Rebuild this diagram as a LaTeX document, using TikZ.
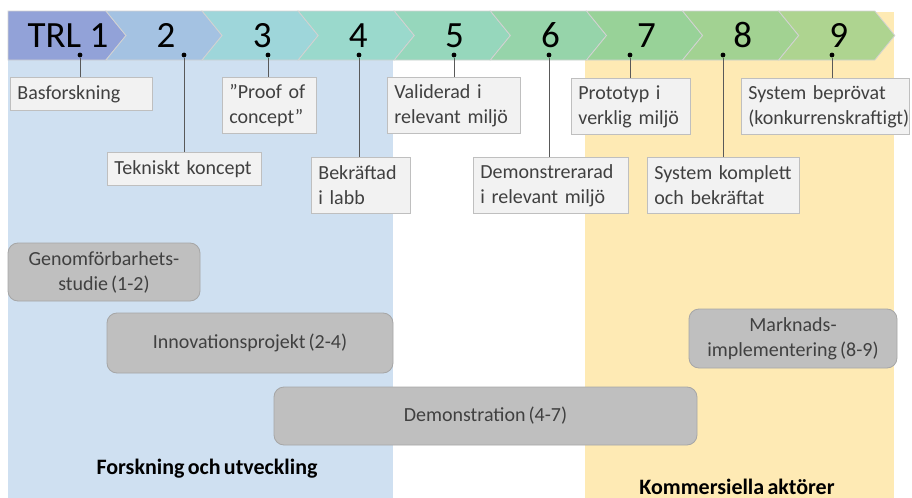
\documentclass[tikz,border=0pt]{standalone}
\usepackage{fontspec}
\setmainfont{Carlito}
\usepackage{xcolor}
\usetikzlibrary{positioning}

\definecolor{fobg}{RGB}{207,224,241}
\definecolor{kobg}{RGB}{254,234,180}
\definecolor{boxfill}{RGB}{242,242,242}
\definecolor{boxline}{RGB}{191,191,191}
\definecolor{phasefill}{RGB}{191,191,191}
\definecolor{phaseline}{RGB}{166,166,166}
\definecolor{txtgray}{RGB}{64,64,64}
\definecolor{trla}{RGB}{146,162,216}
\definecolor{trlb}{RGB}{164,194,226}
\definecolor{trlc}{RGB}{158,214,218}
\definecolor{trld}{RGB}{154,217,204}
\definecolor{trle}{RGB}{150,215,188}
\definecolor{trlf}{RGB}{150,212,170}
\definecolor{trlg}{RGB}{152,210,152}
\definecolor{trlh}{RGB}{162,210,146}
\definecolor{trli}{RGB}{174,212,144}

\newcommand{\tightspace}{\spaceskip=0.15em plus 0.05em\relax}

\tikzset{
  chevron/.style={draw=white!65!gray, line width=0.4pt},
  stage/.style={font=\fontsize{18.5}{22}\selectfont, anchor=base, inner sep=0pt},
  dot/.style={circle, fill=black, inner sep=0pt, minimum size=2.4pt},
  level/.style={draw=boxline, fill=boxfill, text=txtgray, align=left, anchor=north west,
    inner xsep=3.5pt, inner ysep=0pt, font=\fontsize{10}{12.5}\selectfont\tightspace},
  onerow/.style={level, minimum height=16.5pt},
  tworow/.style={level, minimum height=28pt},
  phase/.style={draw=phaseline, fill=phasefill, rounded corners=5pt, text=txtgray,
    align=center, inner sep=0pt, font=\fontsize{10}{12.5}\selectfont\tightspace},
  link/.style={draw=black!65, line width=0.5pt},
  actor/.style={font=\fontsize{11}{13}\selectfont\bfseries\tightspace},
}

\begin{document}
\begin{tikzpicture}[x=0.5pt,y=-0.5pt]
\useasboundingbox (0,0) rectangle (912,498);

% backgrounds
\fill[fobg] (8,11) rectangle (393,498);
\fill[kobg] (585,12) rectangle (894,498);

% TRL bar
\foreach \i/\col in {0/trla,1/trlb,2/trlc,3/trld,4/trle,5/trlf,6/trlg,7/trlh,8/trli} {
  \pgfmathsetmacro\tip{126+96.1*\i}
  \pgfmathsetmacro\back{\i==0 ? 8 : \tip-116.1}
  \pgfmathsetmacro\notch{\i==0 ? 8 : \tip-96.1}
  \draw[chevron, fill=\col] (\back,11) -- (\tip-20,11) -- (\tip,35.5) -- (\tip-20,60)
    -- (\back,60) -- (\notch,35.5) -- cycle;
}
\node[stage] (t1) at (68,47) {TRL 1};
\foreach \n in {2,...,9} {
  \pgfmathsetmacro\px{126+96.1*(\n-1)-56}
  \node[stage] (t\n) at (\px,47) {\n};
}

% dots
\node[dot] (d1) at (80,55) {};
\node[dot] (d2) at (184,55) {};
\node[dot] (d3) at (268,55) {};
\node[dot] (d4) at (359,55) {};
\node[dot] (d5) at (454,55) {};
\node[dot] (d6) at (549,55) {};
\node[dot] (d7) at (630,55) {};
\node[dot] (d8) at (723,55) {};
\node[dot] (d9) at (832,55) {};

% level descriptions
\node[onerow, text width=64pt] (b1) at (10,77) {Basforskning};
\node[onerow, text width=70pt] (b2) at (107,152) {Tekniskt koncept};
\node[tworow, text width=40pt] (b3) at (222,77) {''Proof of\\concept''};
\node[tworow, text width=42.5pt] (b4) at (311,157) {Bekräftad\\i labb};
\node[tworow, text width=59.5pt] (b5) at (387,77) {Validerad i\\relevant miljö};
\node[tworow, text width=70.5pt] (b6) at (473,157) {Demonstrerarad\\i relevant miljö};
\node[tworow, text width=52.5pt] (b7) at (571,78) {Prototyp i\\verklig miljö};
\node[tworow, text width=69pt] (b8) at (647,157) {System komplett\\och bekräftat};
\node[tworow, text width=77pt] (b9) at (741,78) {System beprövat\\(konkurrenskraftigt)};

\foreach \k in {1,...,9}
  \draw[link] (d\k) -- (d\k |- b\k.north);

% phases
\node[phase, minimum width=96pt, minimum height=29pt] (genom) at (104,272) {Genomförbarhets-\\studie (1-2)};
\node[phase, minimum width=143pt, minimum height=30pt] (innov) at (250,343) {Innovationsprojekt (2-4)};
\node[phase, minimum width=211.5pt, minimum height=29pt] (demo) at (485.5,416) {Demonstration (4-7)};
\node[phase, minimum width=104pt, minimum height=29.5pt] (mark) at (793,338.5) {Marknads-\\implementering (8-9)};

% actors
\node[actor] (fou) at (207,469) {Forskning och utveckling};
\node[actor] (kom) at (737,487) {Kommersiella aktörer};
\end{tikzpicture}
\end{document}
